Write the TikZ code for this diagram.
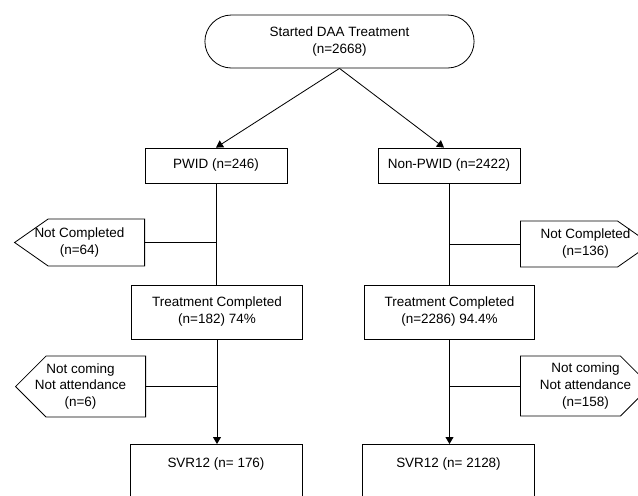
\documentclass[tikz,border=0pt]{standalone}
\usepackage{fontspec}
\setmainfont{Liberation Sans}
\usetikzlibrary{arrows.meta, calc, shapes.misc, shapes.symbols}

\begin{document}
\begin{tikzpicture}[x=0.03cm, y=-0.03cm, line width=0.7pt,
    every node/.style={font=\fontsize{11.5}{14.5}\selectfont, align=center},
    startbox/.style={draw, rounded rectangle, minimum width=8.31cm, minimum height=1.59cm},
    groupbox/.style={draw, rectangle, minimum width=4.26cm, minimum height=1.05cm},
    stagebox/.style={draw, rectangle, minimum width=5.12cm, minimum height=1.62cm},
    svrbox/.style={draw, rectangle, anchor=north, minimum width=5.16cm,
                   inner ysep=0pt, text height=19.5pt, text depth=27pt},
    exitbox/.style={draw, signal, minimum width=3.9cm},
    exittext/.style={inner sep=0pt},
    arrow/.style={-{Triangle[length=0.21cm, width=0.24cm]}}]

  \useasboundingbox (0, 0) rectangle (638, 495);

  % top
  \node[startbox] (start) at (339.5, 41.5) {Started DAA Treatment\\(n=2668)};

  % groups
  \node[groupbox] (pwid)  at (216, 165.5) {PWID (n=246)};
  \node[groupbox] (npwid) at (449, 165.5) {Non-PWID (n=2422)};

  \draw[arrow] (start.south) -- (pwid.north);
  \draw[arrow] (start.south) -- ([xshift=-0.15cm]npwid.north);

  % completed
  \node[stagebox] (tcp) at (217, 312)   {Treatment Completed\\(n=182) 74\%};
  \node[stagebox] (tcn) at (449.5, 312) {Treatment Completed\\(n=2286) 94.4\%};

  \node[exitbox, signal to=west, anchor=east, minimum height=1.41cm,
        signal pointer angle=70] (ncp) at (145, 242.5) {};
  \node[exittext] at ($(ncp.west)!0.5!(ncp.east)$) {Not Completed\\(n=64)};
  \node[exitbox, signal to=east, anchor=west, minimum height=1.38cm,
        signal pointer angle=70] (ncn) at (520, 244) {};
  \node[exittext] at ($(ncn.west)!0.5!(ncn.east)$) {Not Completed\\(n=136)};

  \draw (pwid.south) -- (pwid.south |- tcp.north);
  \draw (npwid.south) -- (npwid.south |- tcn.north);
  \draw (ncp.east) -- (ncp.east -| pwid.south);
  \draw (ncn.west) -- (ncn.west -| npwid.south);

  % svr12
  \node[svrbox] (svrp) at (216, 444)   {SVR12 (n= 176)};
  \node[svrbox] (svrn) at (448.5, 444) {SVR12 (n= 2128)};

  \node[exitbox, signal to=west, anchor=east, minimum height=1.83cm,
        signal pointer angle=90] (ncmp) at (146, 386.5) {};
  \node[exittext] at ($(ncmp.west)!0.5!(ncmp.east)$)
    {Not coming\\Not attendance\\(n=6)};
  \node[exitbox, signal to=east, anchor=west, minimum height=1.8cm,
        signal pointer angle=90] (ncmn) at (520, 386) {};
  \node[exittext] at ($(ncmn.west)!0.5!(ncmn.east)$)
    {Not coming\\Not attendance\\(n=158)};

  \draw[arrow] (tcp.south) -- (tcp.south |- svrp.north);
  \draw[arrow] (tcn.south) -- (tcn.south |- svrn.north);
  \draw (ncmp.east) -- (ncmp.east -| tcp.south);
  \draw (ncmn.west) -- (ncmn.west -| tcn.south);

\end{tikzpicture}
\end{document}
